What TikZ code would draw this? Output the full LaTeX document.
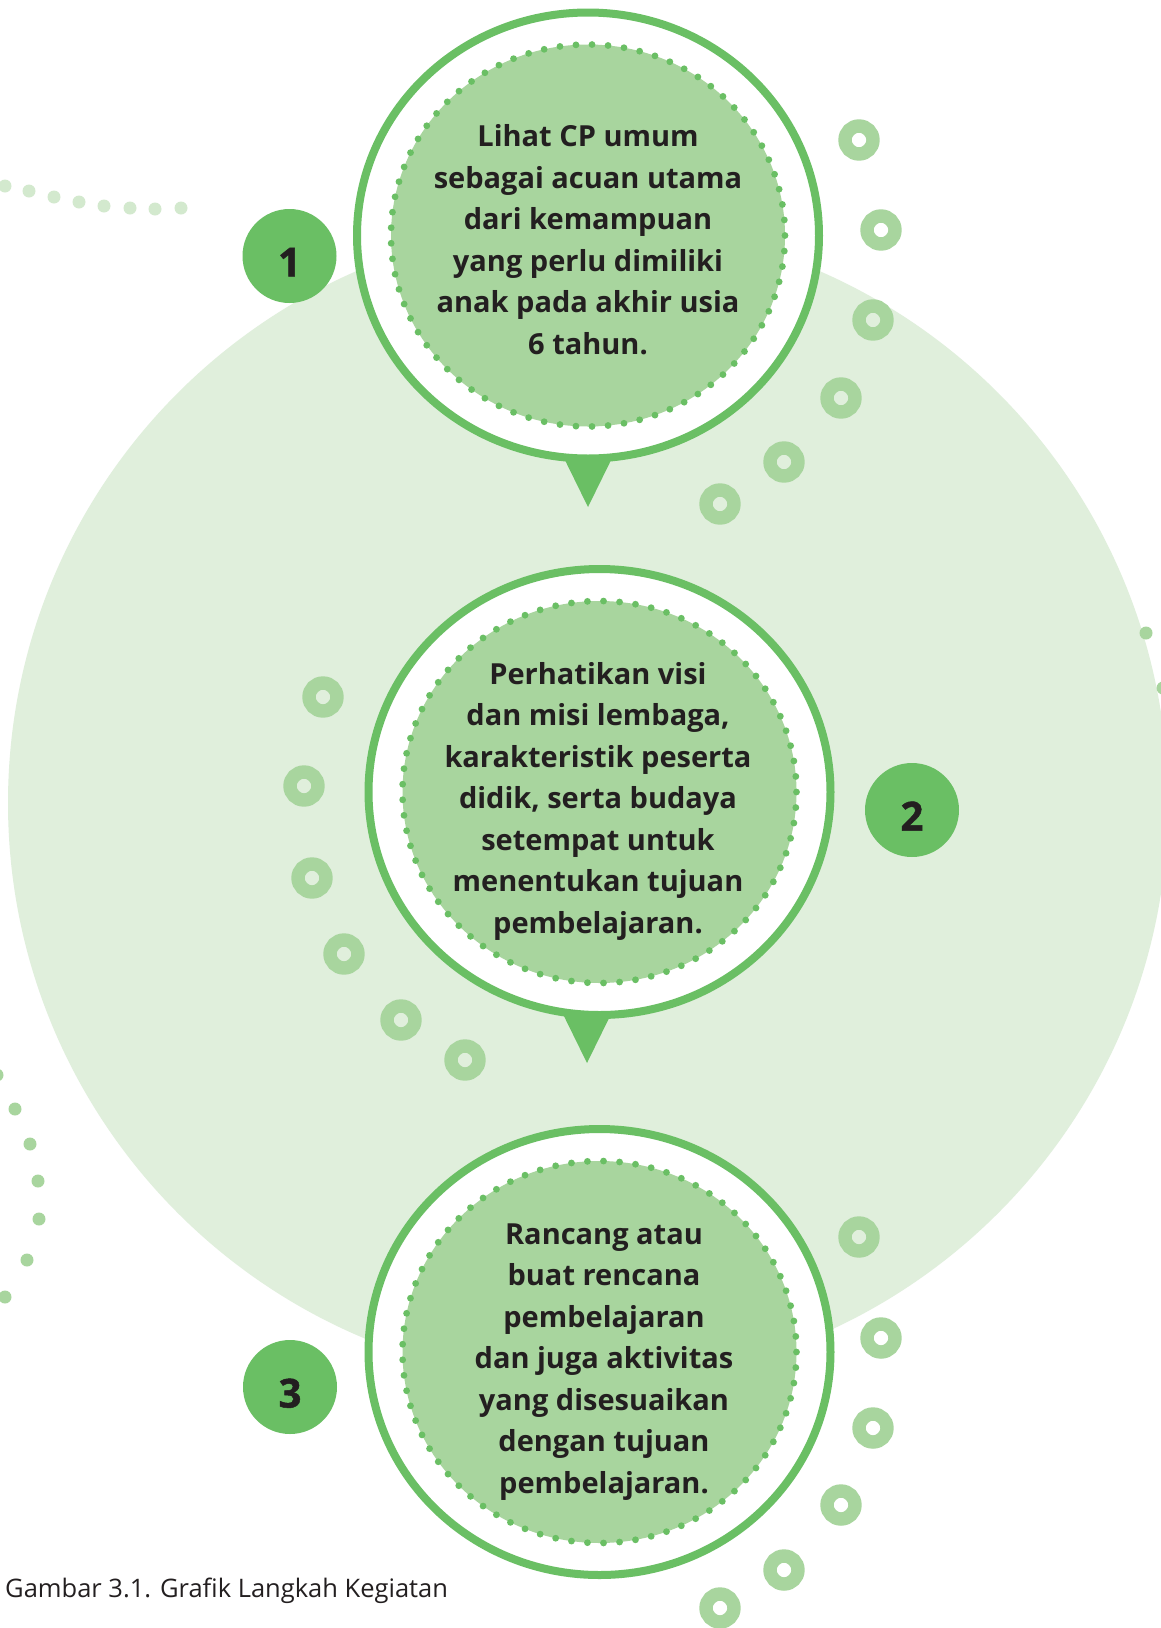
\documentclass[tikz,border=0pt]{standalone}
\usepackage{fontspec}
\setmainfont{Open Sans}
\newfontfamily\numfont{Open Sans}[BoldFeatures={FakeBold=1.2}]
\usetikzlibrary{positioning}

\definecolor{ringgreen}{HTML}{6ABF64}
\definecolor{softgreen}{HTML}{A8D59E}
\definecolor{palegreen}{HTML}{E0EFDC}
\definecolor{dotgreen}{HTML}{D3E9CE}
\definecolor{inkgray}{HTML}{231F20}

\begin{document}
\begin{tikzpicture}[x=1pt,y=-1pt,
    donut/.style={draw=softgreen, line width=13.4pt},
    stepring/.style={draw=ringgreen, fill=white, line width=8pt},
    badge/.style={circle, fill=ringgreen, minimum size=94pt, inner sep=0pt,
      text=inkgray, text height=41pt, text depth=0pt,
      font=\numfont\bfseries\fontsize{40}{40}\selectfont},
    steptext/.style={align=center, anchor=base, inner sep=0pt, text=inkgray,
      font=\bfseries\fontsize{29}{41.5}\selectfont}]

    \useasboundingbox (0,0) rectangle (1160,1628);
    \fill[white] (0,0) rectangle (1160,1628);

    % background disc
    \fill[palegreen] (588,803) circle [radius=580];

    % loose dots
    \foreach \x/\y in {5/186,29/191,54/197,79/202,104/206,130/208,155/209,181/208}
        \fill[dotgreen] (\x,\y) circle [radius=6.5];
    \foreach \x/\y in {-3/1075,15/1109,30/1144,38/1181,39/1219,27/1260,5/1297,1146/633,1163/688}
        \fill[softgreen] (\x,\y) circle [radius=6.5];

    % rings
    \foreach \x/\y in {859/140,881/230,873/320,841/398,784/462,720/504,
                       323/697,304/786,312/878,344/954,401/1020,465/1060,
                       859/1237,881/1338,873/1428,841/1505,784/1570,720/1608}
        \draw[donut] (\x,\y) circle [radius=14];

    \coordinate (c1) at (588,235.5);
    \coordinate (c2) at (599.5,792);
    \coordinate (c3) at (599.5,1352);

    % pointers
    \fill[ringgreen] (560,450) -- (588,507) -- (616,450) -- cycle;
    \fill[ringgreen] (559,1006) -- (587,1063) -- (615,1006) -- cycle;

    % step bubbles
    \foreach \c in {c1,c2,c3}{
        \draw[stepring] (\c) ellipse [x radius=231, y radius=223];
        \fill[softgreen] (\c) ellipse [x radius=197, y radius=191];
        \foreach \i in {1,...,77}
            \fill[ringgreen] (\c) ++({4.6753*\i}:197 and 191) circle [radius=3.4];
    }

    % text (base = last line)
    \node[steptext] (t1) at (588,354) {Lihat CP umum\\sebagai acuan utama\\dari kemampuan\\yang perlu dimiliki\\anak pada akhir usia\\6 tahun.};
    \node[steptext] (t2) at (598,933) {Perhatikan visi\\dan misi lembaga,\\karakteristik peserta\\didik, serta budaya\\setempat untuk\\menentukan tujuan\\pembelajaran.};
    \node[steptext] (t3) at (604,1493) {Rancang atau\\buat rencana\\pembelajaran\\dan juga aktivitas\\yang disesuaikan\\dengan tujuan\\pembelajaran.};

    \node[badge] (n1) at (289.5,256) {1};
    \node[badge] (n2) at (912,810) {2};
    \node[badge] (n3) at (290,1387) {3};

    \node[anchor=base west, inner sep=0pt, text=inkgray, font=\fontsize{25.5}{30}\selectfont]
        (caption) at (5,1597) {Gambar 3.1. Grafik Langkah Kegiatan};

\end{tikzpicture}
\end{document}
